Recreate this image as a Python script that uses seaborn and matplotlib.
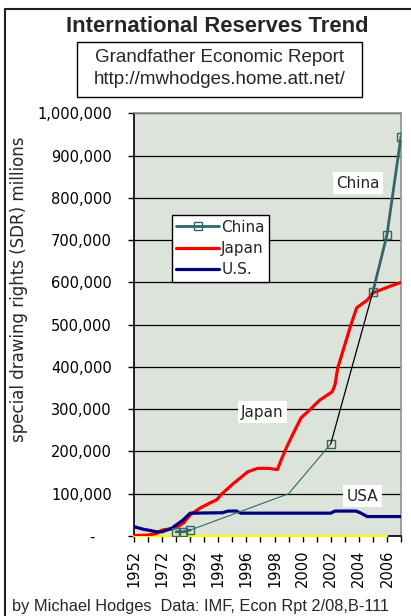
import numpy as np
import pandas as pd
import matplotlib
matplotlib.use("Agg")
import matplotlib.pyplot as plt
import matplotlib.transforms as mtransforms
from matplotlib.lines import Line2D
from matplotlib.patches import Rectangle
from matplotlib.ticker import FuncFormatter
import seaborn as sns

# ---- category axis: decades first, then every year ----
category_years = [1952, 1962, 1972, 1982, 1992, 1993, 1994, 1995, 1996, 1997,
                  1998, 1999, 2000, 2001, 2002, 2003, 2004, 2005, 2006, 2007]
labelled_years = [1952, 1972, 1992, 1994, 1996, 1998, 2000, 2002, 2004, 2006]

# ---- reserves, SDR millions ----
japan_years = [1952, 1962, 1968, 1972, 1980, 1982, 1987, 1992, 1992.7, 1993.4,
               1993.9, 1994.2, 1994.6, 1995.1, 1995.7, 1996.1, 1996.8, 1997.6,
               1998.2, 1998.5, 1998.9, 1999.5, 1999.9, 2000.5, 2001.2, 2002.1,
               2002.3, 2002.5, 2002.9, 2003.4, 2003.85, 2004.6, 2005, 2006, 2007]
japan_vals = [1000, 2000, 6000, 14000, 18000, 20000, 30000, 50000, 66000, 78000,
              86000, 98000, 110000, 125000, 141000, 152000, 160000, 160000,
              157000, 182000, 213000, 254000, 280000, 298000, 321000, 341000,
              357000, 398000, 441000, 496000, 540000, 558000, 575000, 588000, 600000]

us_years = [1952, 1958.6, 1962, 1968, 1972, 1978.8, 1982, 1987, 1992, 1994.3,
            1994.7, 1995.3, 1995.6, 2002.0, 2002.3, 2003.8, 2004.1, 2004.6, 2007]
us_vals = [22000, 16000, 14000, 10000, 10000, 18000, 26000, 38000, 54000, 55000,
           59000, 59000, 54000, 54000, 59000, 59000, 55000, 46000, 46000]

china_years = [1982, 1987, 1992, 2002, 2005, 2006, 2007]
china_vals = [10000, 10000, 14000, 218000, 578000, 712000, 945000]
china_run = [0, 0, 0, 1, 2, 2, 2]

china_bridge_years = [1992, 1999, 2002]
china_bridge_vals = [14000, 100000, 218000]
china_trend_years = [2002, 2005]
china_trend_vals = [218000, 578000]

baseline_years = [1952, 2006]
baseline_vals = [0, 0]

y_ticks = [0, 100000, 200000, 300000, 400000, 500000, 600000, 700000, 800000,
           900000, 1000000]


def axis_pos(years):
    """Map calendar years onto the category axis positions."""
    return np.interp(years, category_years, np.arange(len(category_years)))


japan = pd.DataFrame({"pos": axis_pos(japan_years), "val": japan_vals})
us = pd.DataFrame({"pos": axis_pos(us_years), "val": us_vals})
china = pd.DataFrame({"pos": axis_pos(china_years), "val": china_vals, "run": china_run})
bridge = pd.DataFrame({"pos": axis_pos(china_bridge_years), "val": china_bridge_vals})
trend = pd.DataFrame({"pos": axis_pos(china_trend_years), "val": china_trend_vals})
base = pd.DataFrame({"pos": axis_pos(baseline_years), "val": baseline_vals})

sns.set_style("ticks")
plt.rcParams["font.family"] = ["DejaVu Sans"]

RED = "#FF0000"
NAVY = "#000080"
TEAL = "#336666"
BG = "#DCE3DA"

W, H = 411, 616
fig = plt.figure(figsize=(W / 100, H / 100), dpi=100)
fig.patch.set_facecolor("white")
ax = fig.add_axes([134 / W, 80 / H, 267 / W, 422.7 / H])
ax.set_facecolor(BG)

sns.lineplot(data=base, x="pos", y="val", ax=ax, color="#FFFF00", lw=1.6,
             zorder=3, clip_on=False)
sns.lineplot(data=japan, x="pos", y="val", ax=ax, color=RED, lw=2.3,
             estimator=None, sort=False, zorder=4)
sns.lineplot(data=us, x="pos", y="val", ax=ax, color=NAVY, lw=2.3,
             estimator=None, sort=False, zorder=5)
sns.lineplot(data=bridge, x="pos", y="val", ax=ax, color=TEAL, lw=0.8,
             estimator=None, sort=False, zorder=6)
sns.lineplot(data=china, x="pos", y="val", units="run", ax=ax, color=TEAL, lw=2.0,
             estimator=None, sort=False, marker="s", markersize=6,
             markerfacecolor="none", markeredgecolor=TEAL, markeredgewidth=1.0,
             zorder=7)
sns.lineplot(data=trend, x="pos", y="val", ax=ax, color="black", lw=0.9,
             estimator=None, sort=False, zorder=8)

n_cat = len(category_years)
ax.set_xlim(0, n_cat - 1)
ax.set_ylim(0, 1000000)

# x axis: tick at every category, label every second one
ax.set_xticks(np.arange(n_cat))
ax.set_xticklabels([str(y) if y in labelled_years else "" for y in category_years],
                   rotation=90, fontsize=10.5, color="black")
ax.tick_params(axis="x", direction="out", length=4, width=1, color="black", pad=6)

ax.set_yticks(y_ticks)
ax.yaxis.set_major_formatter(FuncFormatter(lambda v, p: "-" if v == 0 else f"{v:,.0f}"))
ax.tick_params(axis="y", direction="out", length=4, width=1, color="black",
               pad=12, labelsize=10.5, labelcolor="black")
zero_label = ax.yaxis.get_major_ticks()[0].label1
zero_label.set_transform(zero_label.get_transform() +
                         mtransforms.ScaledTranslation(-0.17, 0, fig.dpi_scale_trans))

ax.yaxis.grid(True, color="black", lw=0.9)
ax.xaxis.grid(False)
ax.set_axisbelow(True)
ax.set_xlabel("")
ax.set_ylabel("")

for side in ("top", "right"):
    ax.spines[side].set_color("#909090")
    ax.spines[side].set_linewidth(1.2)
ax.spines["left"].set_color("black")
ax.spines["left"].set_linewidth(1.2)
ax.spines["bottom"].set_color("black")
ax.spines["bottom"].set_linewidth(1.2)

# series names written on the plot
label_box = dict(facecolor="white", edgecolor="none", pad=2.5)
ax.text(15.94, 835000, "China", ha="center", va="center", fontsize=11,
        bbox=label_box, zorder=10)
ax.text(9.14, 293000, "Japan", ha="center", va="center", fontsize=11,
        bbox=label_box, zorder=10)
ax.text(16.26, 94600, "USA", ha="center", va="center", fontsize=11,
        bbox=label_box, zorder=10)

handles = [
    Line2D([], [], color=TEAL, lw=2.0, marker="s", markersize=6,
           markerfacecolor="none", markeredgecolor=TEAL, markeredgewidth=1.0),
    Line2D([], [], color=RED, lw=2.3),
    Line2D([], [], color=NAVY, lw=2.3),
]
leg = ax.legend(handles, ["China", "Japan", "U.S."], loc="upper left",
                bbox_to_anchor=(0.141, 0.759), borderaxespad=0, fontsize=11,
                frameon=True, fancybox=False, framealpha=1, edgecolor="black",
                handlelength=2.8, handletextpad=0.15, borderpad=0.3,
                labelspacing=0.4)
leg.get_frame().set_linewidth(1.0)
leg.set_zorder(12)

# outer frame of the chart area
fig.add_artist(Line2D([5 / W, 5 / W], [0, 1 - 9 / H], transform=fig.transFigure,
                      color="#202020", lw=1.5))
fig.add_artist(Line2D([5 / W, 1], [1 - 9 / H, 1 - 9 / H], transform=fig.transFigure,
                      color="#202020", lw=1.5))

fig.text(217 / W, 1 - 27 / H, "International Reserves Trend", ha="center", va="center",
         fontsize=15.8, fontweight="bold", family=["Liberation Sans", "DejaVu Sans"])
fig.add_artist(Rectangle((77 / W, 1 - 97 / H), (362 - 77) / W, (97 - 42) / H,
                         transform=fig.transFigure, fill=False, edgecolor="black",
                         lw=1.0))
fig.text(219.5 / W, 1 - 57 / H, "Grandfather Economic Report", ha="center",
         va="center", fontsize=13.5, family=["Liberation Sans", "DejaVu Sans"])
fig.text(219.5 / W, 1 - 79 / H, "http://mwhodges.home.att.net/", ha="center",
         va="center", fontsize=13.5, family=["Liberation Sans", "DejaVu Sans"])

fig.text(19 / W, 1 - 289 / H, "special drawing rights (SDR) millions", rotation=90,
         ha="center", va="center", fontsize=12)

fig.text(12 / W, 1 - 607 / H, "by Michael Hodges  Data: IMF, Econ Rpt 2/08,B-111",
         ha="left", va="center", fontsize=11.8, family=["Liberation Sans", "DejaVu Sans"])

fig.savefig("out.png", dpi=100)
